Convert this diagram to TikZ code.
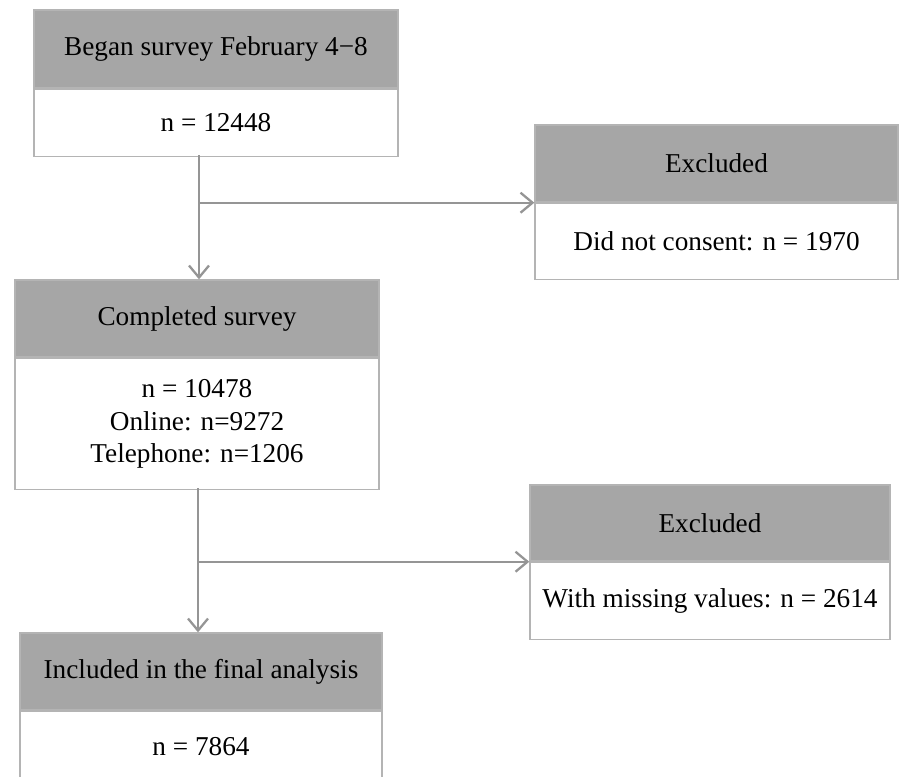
\documentclass[tikz,border=0pt]{standalone}
\usepackage{fontspec}
\setmainfont{Liberation Serif}
\usetikzlibrary{arrows.meta}
\definecolor{headgray}{HTML}{A6A6A6}
\definecolor{edgegray}{HTML}{B4B4B4}
\definecolor{arrgray}{HTML}{959595}

\begin{document}
\begin{tikzpicture}[scale=1,
   head/.style={rectangle,fill=headgray,draw=edgegray,line width=0.8pt,inner sep=0pt,
     font=\fontsize{15.5}{18.7}\selectfont},
   body/.style={rectangle,fill=white,draw=edgegray,line width=0.8pt,inner sep=0pt,align=center,
     anchor=north,font=\fontsize{15.5}{18.7}\selectfont},
   arr/.style={draw=arrgray,line width=1.3pt,-{Straight Barb[length=2.4mm,width=4mm]}}]
   \useasboundingbox (0,0) rectangle (18.02,-15.52);
   \node[head,minimum width=7.28cm,minimum height=1.56cm] (b1h) at ( 4.32,-0.98) {Began survey February 4−8};
   \node[body,minimum width=7.28cm,minimum height=1.34cm] (b1b) at (b1h.south) {n = 12448};
   \node[head,minimum width=7.26cm,minimum height=1.54cm] (e1h) at (14.33,-3.27) {Excluded};
   \node[body,minimum width=7.26cm,minimum height=1.52cm] (e1b) at (e1h.south) {Did not consent: n = 1970};
   \node[head,minimum width=7.28cm,minimum height=1.54cm] (b2h) at ( 3.94,-6.37) {Completed survey};
   \node[body,minimum width=7.28cm,minimum height=2.62cm] (b2b) at (b2h.south) {n = 10478\\Online: n=9272\\Telephone: n=1206};
   \node[head,minimum width=7.20cm,minimum height=1.52cm] (e2h) at (14.20,-10.46) {Excluded};
   \node[body,minimum width=7.20cm,minimum height=1.54cm] (e2b) at (e2h.south) {With missing values: n = 2614};
   \node[head,minimum width=7.24cm,minimum height=1.54cm] (b3h) at ( 4.02,-13.43) {Included in the final analysis};
   \node[body,minimum width=7.24cm,minimum height=1.40cm] (b3b) at (b3h.south) {n = 7864};
   \coordinate (c1) at (3.98,-3.10);
   \coordinate (c2) at (3.96,-9.76);
   \draw[arr] (c1) -- (c1 |- b2h.north);
   \draw[arr] (c1 |- e1h.south west) -- (e1h.south west);
   \draw[arr] (c2) -- (c2 |- b3h.north);
   \draw[arr] (c2 |- e2h.south west) -- (e2h.south west);
  \end{tikzpicture}
\end{document}
